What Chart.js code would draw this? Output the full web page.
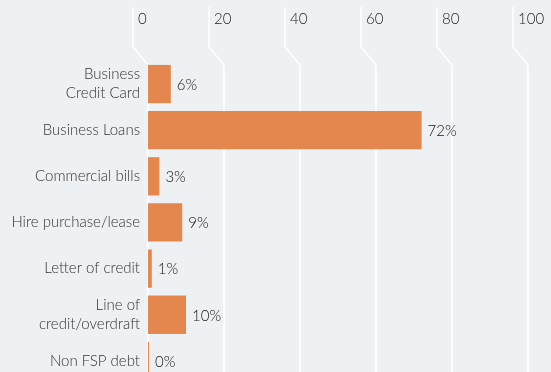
<!DOCTYPE html>
<html>
<head>
<meta charset="utf-8">
<script src="https://cdn.jsdelivr.net/npm/chart.js@4.4.1/dist/chart.umd.min.js"></script>
<style>
  html, body { margin: 0; padding: 0; background: #eef1f4; overflow: hidden; }
  #wrap { width: 551px; height: 411px; }
</style>
</head>
<body>
<div id="wrap"><canvas id="debtChart" width="551" height="411"></canvas></div>
<script>
// Categories and shares (%)
const categories = [
    ['Business', 'Credit Card'],
    'Business Loans',
    'Commercial bills',
    'Hire purchase/lease',
    'Letter of credit',
    ['Line of', 'credit/overdraft'],
    'Non FSP debt'
];
const shares = [6, 72, 3, 9, 1, 10, 0];
const axisTicks = [0, 20, 40, 60, 80, 100];

const FONT = 'Lato, "Open Sans", sans-serif';

// White grid lines with a kink above the plot, plus tick numbers at the top
const bentGrid = {
    id: 'bentGrid',
    beforeDatasetsDraw(chart) {
        const { ctx, chartArea, scales } = chart;
        const x = scales.x;
        ctx.save();
        ctx.strokeStyle = '#ffffff';
        ctx.lineWidth = 1.5;
        ctx.fillStyle = '#222222';
        ctx.font = '300 15px ' + FONT;
        ctx.textAlign = 'left';
        ctx.textBaseline = 'middle';
        axisTicks.forEach(t => {
            const px = x.getPixelForValue(t);
            ctx.beginPath();
            ctx.moveTo(px - 15, 7);
            ctx.lineTo(px - 15, 47);
            ctx.lineTo(px, chartArea.top + 4);
            ctx.lineTo(px, chart.height);
            ctx.stroke();
            ctx.fillText(String(t), px - 10, 19);
        });
        ctx.restore();
    }
};

// Percentage labels at the end of each bar
const valueLabels = {
    id: 'valueLabels',
    afterDatasetsDraw(chart) {
        const { ctx } = chart;
        const meta = chart.getDatasetMeta(0);
        ctx.save();
        ctx.fillStyle = '#151515';
        ctx.font = '300 15px ' + FONT;
        ctx.textAlign = 'left';
        ctx.textBaseline = 'middle';
        meta.data.forEach((bar, i) => {
            ctx.fillText(shares[i] + '%', bar.x + 6, bar.y + 1);
        });
        ctx.restore();
    }
};

new Chart(document.getElementById('debtChart'), {
    type: 'bar',
    data: {
        labels: categories,
        datasets: [{
            data: shares,
            backgroundColor: '#e4874f',
            borderWidth: 0,
            barPercentage: 0.83,
            categoryPercentage: 1,
            minBarLength: 1
        }]
    },
    options: {
        indexAxis: 'y',
        responsive: false,
        animation: false,
        layout: { padding: { top: 61, right: 23, bottom: 7, left: 0 } },
        plugins: {
            legend: { display: false },
            tooltip: { enabled: false }
        },
        scales: {
            x: {
                display: false,
                min: 0,
                max: 100
            },
            y: {
                afterFit(scale) { scale.width = 148; },
                border: { display: false },
                grid: { display: false, drawTicks: false },
                ticks: {
                    padding: 8,
                    color: '#333333',
                    font: { family: FONT, size: 15, weight: '300', lineHeight: 1.27 }
                }
            }
        }
    },
    plugins: [bentGrid, valueLabels]
});
</script>
</body>
</html>
